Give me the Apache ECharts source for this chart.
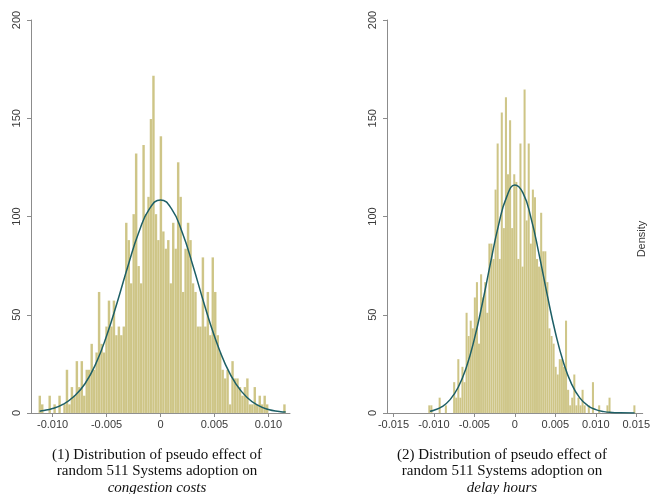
<!DOCTYPE html>
<html>
<head>
<meta charset="utf-8">
<script src="https://cdn.jsdelivr.net/npm/echarts@6/dist/echarts.min.js"></script>
<style>
  html, body { margin: 0; padding: 0; background: #fff; }
  #chart { width: 653px; height: 494px; }
</style>
</head>
<body>
<div id="chart"></div>
<script>
// histogram (1): congestion costs, 100 bins
const leftBinStart = -0.0113
const leftBinWidth = 0.000229
const leftDensity = [
  8.8, 4.4, 0, 0, 8.8, 0, 4.4, 0, 8.8, 0,
  4.4, 22, 4.4, 13.2, 8.8, 26.4, 13.2, 26.4, 8.8, 22,
  22, 35.2, 22, 30.8, 61.6, 35.2, 30.8, 44, 57.2, 44,
  57.2, 39.6, 44, 39.6, 44, 96.8, 88, 66, 101.2, 132,
  74.8, 66, 136.4, 101.2, 110, 149.6, 171.6, 101.2, 88, 140.8,
  92.4, 83.6, 88, 66, 96.8, 83.6, 127.6, 110, 61.6, 83.6,
  96.8, 88, 66, 61.6, 44, 44, 79.2, 44, 61.6, 39.6,
  79.2, 61.6, 39.6, 30.8, 22, 17.6, 22, 4.4, 26.4, 17.6,
  17.6, 13.2, 8.8, 13.2, 17.6, 4.4, 4.4, 13.2, 4.4, 8.8,
  4.4, 8.8, 4.4, 0, 0, 0, 0, 0, 0, 4.4
]
const leftCurveX = [-0.0112, -0.011, -0.010, -0.009, -0.008, -0.007, -0.006, -0.005, -0.004, -0.003, -0.002, -0.001, 0,
  0.001, 0.002, 0.003, 0.004, 0.005, 0.006, 0.007, 0.008, 0.009, 0.010, 0.011, 0.0116]
const leftCurveY = [0.9, 1.1, 2.3, 4.5, 8.5, 14.9, 25, 39.2, 56.5, 75.1, 92.1, 104.1, 108.4,
  104.1, 92.1, 75.1, 56.4, 39.1, 24.9, 14.7, 8.0, 4.0, 1.8, 0.8, 0.45]

// histogram (2): delay hours, 100 bins
const rightBinStart = -0.0107
const rightBinWidth = 0.000256
const rightDensity = [
  3.9, 3.9, 0, 0, 0, 7.8, 0, 0, 3.9, 0,
  0, 0, 15.7, 7.8, 27.4, 7.8, 23.5, 15.7, 51, 39.2,
  47, 43.1, 58.8, 66.6, 35.3, 70.6, 58.8, 66.6, 51, 86.2,
  86.2, 78.4, 113.7, 137.2, 78.4, 152.9, 94.1, 160.7, 121.5, 149,
  94.1, 121.5, 117.6, 78.4, 137.2, 74.5, 164.6, 98, 137.2, 86.2,
  113.7, 109.8, 78.4, 74.5, 101.9, 82.3, 82.3, 66.6, 43.1, 39.2,
  35.3, 23.5, 19.6, 27.4, 27.4, 23.5, 47, 11.8, 3.9, 7.8,
  19.6, 3.9, 7.8, 3.9, 11.8, 3.9, 0, 3.9, 0, 15.7,
  0, 0, 3.9, 0, 0, 0, 3.9, 7.8, 0, 0,
  0, 0, 0, 0, 0, 0, 0, 0, 0, 3.9
]
const rightCurveX = [-0.0105, -0.010, -0.009, -0.008, -0.007, -0.006, -0.005, -0.004, -0.003, -0.002, -0.001, 0,
  0.001, 0.002, 0.003, 0.004, 0.005, 0.006, 0.007, 0.008, 0.009, 0.010, 0.011, 0.012, 0.013, 0.0148]
const rightCurveY = [0.9, 1.4, 3.2, 6.8, 13.1, 23.2, 37.7, 56.1, 76.5, 95.9, 110.1, 116,
  112, 99.2, 80.6, 60.1, 41.1, 25.8, 14.8, 7.8, 3.8, 1.7, 0.7, 0.25, 0.1, 0.02]

const leftTicks = [-0.01, -0.005, 0, 0.005, 0.01]
const rightTicks = [-0.015, -0.01, -0.005, 0, 0.005, 0.01, 0.015]
const yTicks = [0, 50, 100, 150, 200]

const captionLeft = ['(1) Distribution of pseudo effect of', 'random 511 Systems adoption on', 'congestion costs']
const captionRight = ['(2) Distribution of pseudo effect of', 'random 511 Systems adoption on', 'delay hours']

const barFill = '#cec586'
const curveColor = '#1d5f66'
const axisGray = '#8c8c8c'
const labelColor = '#3a3a3a'
const sans = 'Liberation Sans, Arial, sans-serif'
const serif = 'Liberation Serif, Times New Roman, serif'

const binData = (start, width, dens) => dens.map((d, i) => [start + i * width, start + (i + 1) * width, d])

const renderBin = (params, api) => {
    const h = api.value(2)
    if (!h) return null
    const p0 = api.coord([api.value(0), h])
    const p1 = api.coord([api.value(1), 0])
    return {
        type: 'rect',
        shape: { x: p0[0], y: p0[1], width: p1[0] - p0[0], height: p1[1] - p0[1] },
        style: { fill: barFill, stroke: 'rgba(255,255,255,0.25)', lineWidth: 0.3 }
    }
}

const xAxisFor = (gridIndex, min, max, ticks) => ({
    type: 'value',
    gridIndex,
    min,
    max,
    axisLine: { show: true, onZero: false, lineStyle: { color: axisGray, width: 1 } },
    axisTick: { show: true, length: 4, lineStyle: { color: axisGray }, customValues: ticks },
    axisLabel: {
        customValues: ticks,
        margin: 6,
        color: labelColor,
        fontFamily: sans,
        fontSize: 11,
        formatter: v => (v === 0 ? '0' : v.toFixed(3))
    },
    splitLine: { show: false }
})

const yAxisFor = gridIndex => ({
    type: 'value',
    gridIndex,
    min: 0,
    max: 200,
    axisLine: { show: true, onZero: false, lineStyle: { color: axisGray, width: 1 } },
    axisTick: { show: true, length: 4, lineStyle: { color: axisGray }, customValues: yTicks },
    axisLabel: {
        customValues: yTicks,
        rotate: 90,
        margin: 9,
        color: labelColor,
        fontFamily: sans,
        fontSize: 11
    },
    splitLine: { show: false }
})

const captionText = (lines, cx) => lines.map((t, i) => ({
    type: 'text',
    x: cx,
    y: 455 + i * 16.5,
    style: {
        text: t,
        fill: '#111',
        font: (i === 2 ? 'italic ' : '') + '15px ' + serif,
        textAlign: 'center',
        textVerticalAlign: 'middle'
    }
}))

const chart = echarts.init(document.getElementById('chart'))
chart.setOption({
    animation: false,
    backgroundColor: '#fff',
    grid: [
        { left: 31, top: 20, width: 259, height: 393 },
        { left: 387, top: 20, width: 262, height: 393 }
    ],
    xAxis: [
        xAxisFor(0, -0.012, 0.012, leftTicks),
        xAxisFor(1, -0.0158, 0.0158, rightTicks)
    ],
    yAxis: [yAxisFor(0), yAxisFor(1)],
    series: [
        {
            type: 'custom',
            xAxisIndex: 0,
            yAxisIndex: 0,
            renderItem: renderBin,
            encode: { x: [0, 1], y: 2 },
            data: binData(leftBinStart, leftBinWidth, leftDensity)
        },
        {
            type: 'line',
            xAxisIndex: 0,
            yAxisIndex: 0,
            smooth: true,
            showSymbol: false,
            lineStyle: { color: curveColor, width: 1.5 },
            data: leftCurveX.map((x, i) => [x, leftCurveY[i]])
        },
        {
            type: 'custom',
            xAxisIndex: 1,
            yAxisIndex: 1,
            renderItem: renderBin,
            encode: { x: [0, 1], y: 2 },
            data: binData(rightBinStart, rightBinWidth, rightDensity)
        },
        {
            type: 'line',
            xAxisIndex: 1,
            yAxisIndex: 1,
            smooth: true,
            showSymbol: false,
            lineStyle: { color: curveColor, width: 1.5 },
            data: rightCurveX.map((x, i) => [x, rightCurveY[i]])
        }
    ],
    graphic: [
        ...captionText(captionLeft, 157),
        ...captionText(captionRight, 502),
        {
            type: 'text',
            x: 642,
            y: 239,
            rotation: Math.PI / 2,
            style: {
                text: 'Density',
                fill: labelColor,
                font: '11px ' + sans,
                textAlign: 'center',
                textVerticalAlign: 'middle'
            }
        }
    ]
})
</script>
</body>
</html>
